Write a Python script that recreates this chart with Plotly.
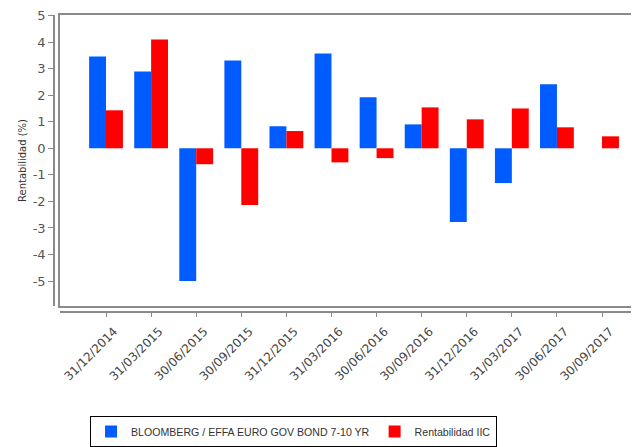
import plotly.graph_objects as go

fechas = ["31/12/2014", "31/03/2015", "30/06/2015", "30/09/2015", "31/12/2015", "31/03/2016",
          "30/06/2016", "30/09/2016", "31/12/2016", "31/03/2017", "30/06/2017", "30/09/2017"]
bloomberg = [3.46, 2.89, -5.0, 3.31, 0.83, 3.57, 1.92, 0.90, -2.78, -1.31, 2.41, None]
rent_iic = [1.43, 4.10, -0.60, -2.14, 0.65, -0.53, -0.37, 1.54, 1.09, 1.50, 0.79, 0.45]
y_ticks = [-5, -4, -3, -2, -1, 0, 1, 2, 3, 4, 5]

FONT = "DejaVu Sans"
GRIS = "#8a8a8a"
X_RANGE = [-1.02, 11.82]
Y_RANGE = [-5.94, 5.02]
X_DOM = [0.0103, 1]
Y_DOM = [0.0202, 1]

fig = go.Figure()

fig.add_trace(go.Bar(
    x=fechas, y=bloomberg,
    name="BLOOMBERG / EFFA EURO GOV BOND 7-10 YR",
    marker=dict(color="#005CFF", line=dict(width=0)),
))
fig.add_trace(go.Bar(
    x=fechas, y=rent_iic,
    name="Rentabilidad IIC",
    marker=dict(color="#FF0000", line=dict(width=0)),
))

# trazas invisibles para los ejes auxiliares (fechas y marco)
fig.add_trace(go.Scatter(x=[0], y=[0], xaxis="x2", mode="markers",
                         marker=dict(opacity=0), showlegend=False, hoverinfo="skip"))
fig.add_trace(go.Scatter(x=[fechas[0]], y=[0], yaxis="y2", mode="markers",
                         marker=dict(opacity=0), showlegend=False, hoverinfo="skip"))

# la pagina tiene 8px de margen en body: la figura es 8px mas pequena
fig.update_layout(
    width=631, height=439,
    template="plotly_white",
    plot_bgcolor="white",
    paper_bgcolor="white",
    barmode="group",
    bargap=0.25,
    bargroupgap=0,
    margin=dict(l=46, r=0, t=7, b=135, autoexpand=False),
    font=dict(family=FONT, color="#444444"),
    xaxis=dict(
        type="category",
        domain=X_DOM,
        range=X_RANGE,
        showticklabels=False,
        showgrid=False,
        zeroline=False,
        showline=True,
        mirror=True,
        linecolor=GRIS,
        linewidth=1.5,
        ticks="",
        automargin=False,
    ),
    xaxis2=dict(
        overlaying="x",
        domain=X_DOM,
        anchor="free",
        position=0,
        side="bottom",
        range=X_RANGE,
        tickmode="array",
        tickvals=list(range(len(fechas))),
        ticktext=fechas,
        tickangle=-45,
        ticklabelshift=8,
        ticklabelstandoff=3,
        tickfont=dict(size=12, color="#444444", family=FONT),
        ticks="outside",
        ticklen=4,
        tickcolor=GRIS,
        showline=True,
        linecolor=GRIS,
        linewidth=1.5,
        showgrid=False,
        zeroline=False,
        automargin=False,
    ),
    yaxis=dict(
        domain=Y_DOM,
        anchor="free",
        position=0,
        range=Y_RANGE,
        tickmode="array",
        tickvals=y_ticks,
        ticktext=[str(v) for v in y_ticks],
        tickfont=dict(size=13, color="#555555", family=FONT),
        ticks="outside",
        ticklen=5,
        tickcolor=GRIS,
        showgrid=False,
        zeroline=False,
        showline=True,
        linecolor=GRIS,
        linewidth=1.5,
        automargin=False,
        title=dict(text="Rentabilidad (%)", font=dict(size=10, color="#333333", family=FONT), standoff=3),
    ),
    yaxis2=dict(
        overlaying="y",
        anchor="x",
        range=Y_RANGE,
        showticklabels=False,
        ticks="",
        showgrid=False,
        zeroline=False,
        showline=True,
        mirror=True,
        linecolor=GRIS,
        linewidth=1.5,
        automargin=False,
    ),
    showlegend=True,
    legend=dict(
        orientation="h",
        xref="container", yref="container",
        x=0.4525, xanchor="center",
        y=0.0, yanchor="bottom",
        font=dict(size=10.6, color="#333333", family="Liberation Sans"),
        bordercolor="#000000",
        borderwidth=1,
        bgcolor="white",
        itemwidth=30,
        tracegroupgap=0,
    ),
)

fig.write_html("out.html")
